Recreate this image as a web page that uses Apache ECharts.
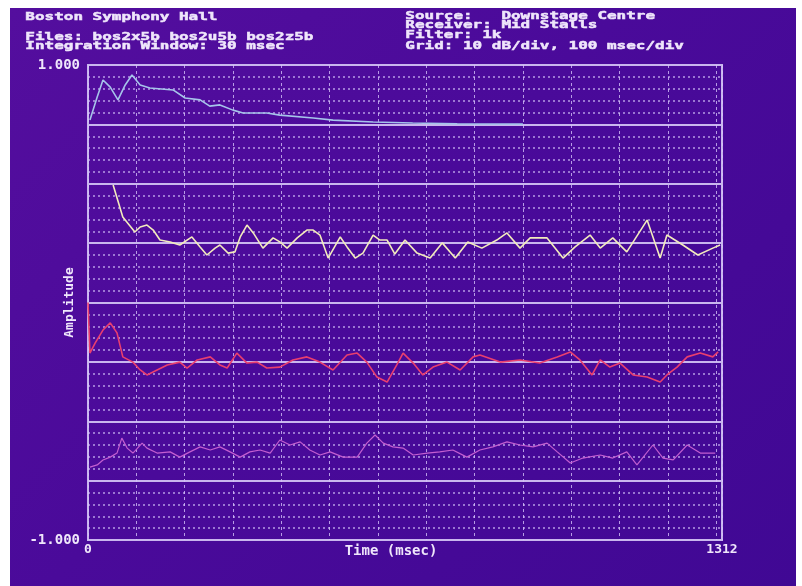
<!DOCTYPE html>
<html>
<head>
<meta charset="utf-8">
<script src="https://cdn.jsdelivr.net/npm/echarts@6/dist/echarts.min.js"></script>
<style>
  html, body { margin: 0; padding: 0; background: #ffffff; }
  #bg { position: absolute; left: 10px; top: 8px; width: 786px; height: 578px;
        background: linear-gradient(135deg, #540e9e 0%, #4a0a9a 45%, #400894 100%); }
  #chart { position: absolute; left: 0; top: 0; width: 802px; height: 586px; }
</style>
</head>
<body>
<div id="bg"></div>
<div id="chart"></div>
<script>
// ---- Data (time in msec, amplitude on the -1..1 display scale) ----
const xTickLabels = [0, 1312];
const yTickLabels = [-1, 1];

const time1 = [4, 19, 31, 46, 62, 77, 91, 108, 128, 176, 201, 232, 252, 273, 300, 321, 370, 397, 466, 507, 590, 672, 764, 900];
const amp1  = [0.768, 0.865, 0.937, 0.907, 0.853, 0.916, 0.958, 0.916, 0.903, 0.895, 0.861, 0.853, 0.827, 0.832, 0.810, 0.798, 0.798, 0.789, 0.777, 0.768, 0.760, 0.756, 0.752, 0.751];

const time2 = [52, 72, 97, 108, 122, 135, 149, 170, 190, 215, 232, 246, 263, 273, 290, 304, 315, 329, 342, 362, 383, 397, 412, 433, 453, 466, 480, 497, 522, 536, 553, 569, 590, 604, 619, 635, 656, 681, 708, 733, 760, 786, 815, 846, 867, 894, 915, 950, 983, 1008, 1039, 1060, 1086, 1115, 1157, 1184, 1198, 1231, 1262, 1293, 1308];
const amp2  = [0.495, 0.360, 0.297, 0.318, 0.326, 0.305, 0.263, 0.255, 0.242, 0.276, 0.234, 0.200, 0.229, 0.242, 0.208, 0.213, 0.276, 0.326, 0.293, 0.229, 0.272, 0.255, 0.229, 0.272, 0.305, 0.305, 0.284, 0.187, 0.276, 0.234, 0.187, 0.208, 0.284, 0.263, 0.263, 0.204, 0.263, 0.208, 0.187, 0.251, 0.187, 0.255, 0.229, 0.263, 0.293, 0.229, 0.272, 0.272, 0.187, 0.234, 0.284, 0.229, 0.272, 0.213, 0.347, 0.187, 0.284, 0.242, 0.200, 0.229, 0.242];

const time3 = [0, 4, 15, 31, 46, 60, 72, 93, 108, 122, 143, 164, 190, 205, 226, 253, 273, 288, 308, 329, 350, 370, 397, 424, 453, 480, 507, 536, 557, 577, 598, 619, 639, 652, 673, 693, 714, 743, 770, 797, 811, 853, 894, 935, 971, 998, 1018, 1043, 1060, 1080, 1101, 1128, 1157, 1184, 1198, 1219, 1240, 1267, 1293, 1304];
const amp3  = [0.000, -0.213, -0.170, -0.116, -0.086, -0.128, -0.229, -0.251, -0.284, -0.305, -0.284, -0.263, -0.251, -0.276, -0.242, -0.229, -0.263, -0.276, -0.213, -0.255, -0.251, -0.276, -0.272, -0.242, -0.229, -0.251, -0.284, -0.221, -0.213, -0.251, -0.314, -0.335, -0.263, -0.213, -0.255, -0.305, -0.272, -0.251, -0.284, -0.229, -0.221, -0.251, -0.242, -0.255, -0.229, -0.208, -0.242, -0.305, -0.242, -0.272, -0.255, -0.305, -0.314, -0.335, -0.305, -0.272, -0.229, -0.213, -0.229, -0.208];

const time4 = [4, 19, 31, 46, 60, 70, 81, 93, 112, 122, 143, 170, 190, 211, 232, 253, 273, 294, 315, 335, 356, 377, 397, 418, 439, 459, 480, 501, 528, 557, 577, 594, 611, 631, 652, 673, 702, 728, 755, 784, 811, 838, 867, 894, 921, 950, 971, 998, 1024, 1060, 1086, 1115, 1136, 1169, 1190, 1211, 1240, 1267, 1298];
const amp4  = [-0.693, -0.684, -0.663, -0.651, -0.634, -0.571, -0.613, -0.634, -0.592, -0.613, -0.634, -0.629, -0.651, -0.629, -0.608, -0.621, -0.608, -0.629, -0.651, -0.629, -0.621, -0.634, -0.579, -0.600, -0.587, -0.621, -0.642, -0.629, -0.651, -0.651, -0.592, -0.558, -0.592, -0.608, -0.613, -0.642, -0.634, -0.629, -0.621, -0.651, -0.621, -0.608, -0.587, -0.600, -0.608, -0.592, -0.629, -0.676, -0.655, -0.642, -0.655, -0.629, -0.684, -0.600, -0.655, -0.663, -0.600, -0.634, -0.634];

const headerLeft = ['Boston Symphony Hall', 'Files: bos2x5b bos2u5b bos2z5b', 'Integration Window: 30 msec'];
const headerRight = ['Source:   Downstage Centre', 'Receiver: Mid Stalls', 'Filter: 1k', 'Grid: 10 dB/div, 100 msec/div'];

function zip(t, v) { return t.map((x, i) => [x, v[i]]); }

const textColor = '#efe6fb';
const mono = '"DejaVu Sans Mono", "Liberation Mono", monospace';
const gridSolid = '#c9b6ee';
const gridDot = 'rgba(214,196,250,0.78)';

function hdr(text, x, y) {
  return { type: 'text', left: x, top: y, scaleX: 1.45, z: 100,
    style: { text: text, fill: textColor, stroke: textColor, lineWidth: 0.5, font: 'bold 11px ' + mono } };
}

const chart = echarts.init(document.getElementById('chart'), null, { renderer: 'canvas' });
chart.setOption({
  backgroundColor: 'transparent',
  animation: false,
  grid: { left: 88, right: 80, top: 65, bottom: 46, show: true, borderColor: gridSolid, borderWidth: 2, backgroundColor: 'transparent' },
  graphic: [
    hdr(headerLeft[0], 25, 11),
    hdr(headerLeft[1], 25, 31),
    hdr(headerLeft[2], 25, 40),
    hdr(headerRight[0], 405, 10),
    hdr(headerRight[1], 405, 19),
    hdr(headerRight[2], 405, 29),
    hdr(headerRight[3], 405, 40)
  ],
  xAxis: [
    { type: 'value', min: 0, max: 1312, interval: 100,
      axisLine: { show: false }, axisTick: { show: false }, axisLabel: { show: false },
      splitLine: { show: true, lineStyle: { color: gridDot, width: 1, type: [3, 3] } } },
    { type: 'value', min: 0, max: 1312, interval: 1312, position: 'bottom',
      axisLine: { show: false }, axisTick: { show: false }, splitLine: { show: false },
      axisLabel: { show: true, color: textColor, fontFamily: mono, fontWeight: 'bold', fontSize: 13, margin: 3,
        formatter: v => (xTickLabels.indexOf(v) >= 0 ? String(v) : '') },
      name: 'Time (msec)', nameLocation: 'middle', nameGap: 4, nameMoveOverlap: false,
      nameTextStyle: { color: textColor, fontFamily: mono, fontWeight: 'bold', fontSize: 14, padding: [0, 28, 0, 0] } }
  ],
  yAxis: [
    { type: 'value', min: -1, max: 1, interval: 0.25,
      axisLine: { show: false }, axisTick: { show: false }, axisLabel: { show: false },
      splitLine: { show: true, lineStyle: { color: gridSolid, width: 2, type: 'solid' } },
      minorTick: { show: false, splitNumber: 5 },
      minorSplitLine: { show: true, lineStyle: { color: gridDot, width: 1.5, type: [2, 3] } } },
    { type: 'value', min: -1, max: 1, interval: 2, position: 'left',
      axisLine: { show: false }, axisTick: { show: false }, splitLine: { show: false },
      axisLabel: { show: true, color: textColor, fontFamily: mono, fontWeight: 'bold', fontSize: 14, margin: 8,
        formatter: v => (yTickLabels.indexOf(v) >= 0 ? v.toFixed(3) : '') },
      name: 'Amplitude', nameLocation: 'middle', nameRotate: 90, nameGap: 12, nameMoveOverlap: false,
      nameTextStyle: { color: textColor, fontFamily: mono, fontWeight: 'bold', fontSize: 13 } }
  ],
  series: [
    { type: 'line', name: 'bos2x5b', xAxisIndex: 0, yAxisIndex: 0, data: zip(time1, amp1), showSymbol: false,
      lineStyle: { color: '#a6c4ea', width: 1.6 }, z: 5 },
    { type: 'line', name: 'bos2u5b', xAxisIndex: 0, yAxisIndex: 0, data: zip(time2, amp2), showSymbol: false,
      lineStyle: { color: '#f3ebbc', width: 1.6 }, z: 5 },
    { type: 'line', name: 'bos2z5b', xAxisIndex: 0, yAxisIndex: 0, data: zip(time3, amp3), showSymbol: false,
      lineStyle: { color: '#ea3f6e', width: 1.6 }, z: 5 },
    { type: 'line', name: 'bos2z5b-b', xAxisIndex: 0, yAxisIndex: 0, data: zip(time4, amp4), showSymbol: false,
      lineStyle: { color: '#c45ed0', width: 1.2 }, z: 5 }
  ]
});
</script>
</body>
</html>
